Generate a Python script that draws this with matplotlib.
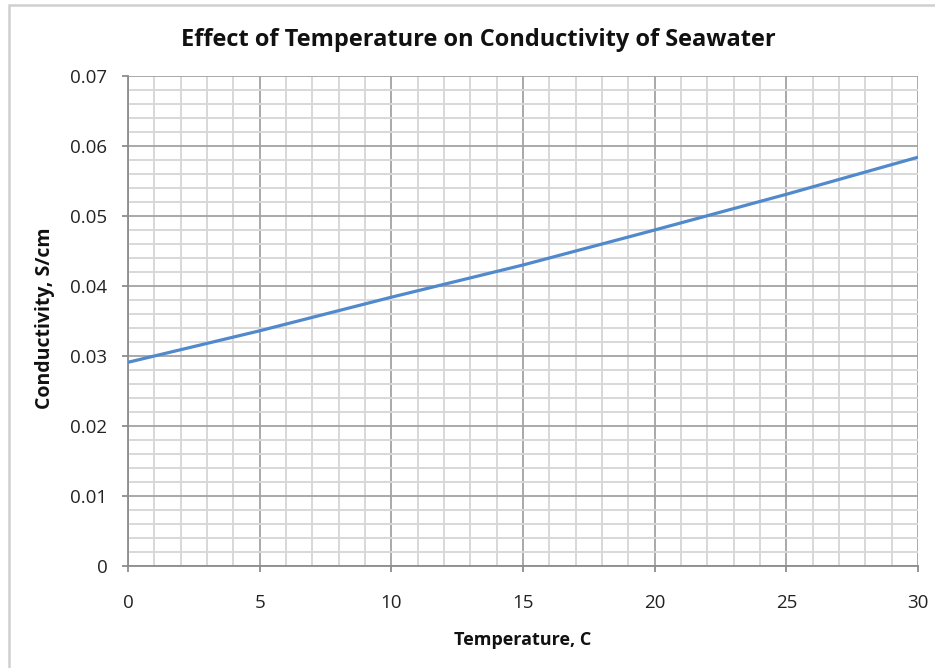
import numpy as np
import matplotlib
matplotlib.use("Agg")
import matplotlib.pyplot as plt
from matplotlib.patches import Rectangle
from matplotlib.ticker import MultipleLocator

# values
temperature = [0, 5, 10, 15, 20, 25, 30]
conductivity = [0.0291, 0.0336, 0.0384, 0.0430, 0.0480, 0.0531, 0.0584]

plt.rcParams["font.family"] = ["Open Sans", "DejaVu Sans"]

W, H = 935, 668
fig = plt.figure(figsize=(W / 100, H / 100), dpi=100)
ax = fig.add_axes([128 / W, 1 - 566 / H, 790 / W, 490 / H])

# outer chart frame (only top and left edges visible in the crop)
fig.patches.append(Rectangle((9 / W, -0.1), 1.2, 1 - 5 / H + 0.1, transform=fig.transFigure,
                             fill=False, edgecolor="#d0d0d0", linewidth=1.8, zorder=0))

ax.plot(temperature, conductivity, color="#5089cc", linewidth=2.3, zorder=3,
        solid_capstyle="butt")

ax.set_xlim(0, 30)
ax.set_ylim(0, 0.07)
ax.xaxis.set_major_locator(MultipleLocator(5))
ax.xaxis.set_minor_locator(MultipleLocator(1))
ax.yaxis.set_major_locator(MultipleLocator(0.01))
ax.yaxis.set_minor_locator(MultipleLocator(0.002))
ax.set_yticks(np.arange(0, 0.071, 0.01))
ax.set_yticklabels(["0", "0.01", "0.02", "0.03", "0.04", "0.05", "0.06", "0.07"])

ax.grid(which="minor", color="#d8d8d8", linewidth=1.4, zorder=1)
ax.grid(which="major", color="#a3a3a3", linewidth=1.3, zorder=2)
ax.set_axisbelow(True)

for side in ("top", "right"):
    ax.spines[side].set_visible(False)
for side in ("left", "bottom"):
    ax.spines[side].set_color("#8c8c8c")
    ax.spines[side].set_linewidth(1.3)

ax.tick_params(which="major", direction="out", length=4.3, width=1.3, color="#8c8c8c",
               labelsize=13.5, labelcolor="#222222")
ax.tick_params(axis="y", pad=10.5)
ax.tick_params(axis="x", pad=16)
ax.tick_params(which="minor", length=0)

fig.text(478 / W, 1 - 40 / H, "Effect of Temperature on Conductivity of Seawater",
         ha="center", va="center", fontsize=17, fontweight="bold", color="#111111")
fig.text(523 / W, 1 - 640 / H, "Temperature, C", ha="center", va="center",
         fontsize=13, fontweight="bold", color="#111111")
fig.text(45 / W, 1 - 318 / H, "Conductivity, S/cm", ha="center", va="center",
         rotation=90, fontsize=14, fontweight="bold", color="#111111")

fig.savefig("out.png", dpi=100)
